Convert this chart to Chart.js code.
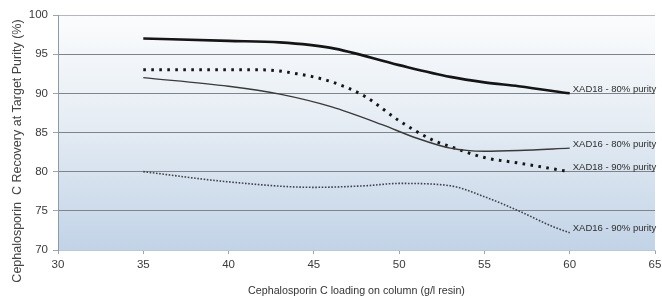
<!DOCTYPE html>
<html>
<head>
<meta charset="utf-8">
<script src="https://cdn.jsdelivr.net/npm/chart.js@4"></script>
<style>
  html, body { margin: 0; padding: 0; background: #fff; }
  #wrap { width: 662px; height: 298px; position: relative; }
</style>
</head>
<body>
<div id="wrap"><canvas id="chart" width="662" height="298"></canvas></div>
<script>
// Loading values (g/l resin) and recovery (%) for each resin / purity target
const xad18_80_x = [35, 40, 43, 46, 50, 53, 55, 57, 60];
const xad18_80_y = [97.0, 96.7, 96.5, 95.8, 93.6, 92.1, 91.4, 90.9, 90.0];

const xad16_80_x = [35, 40, 43, 46, 49, 51, 53, 55, 57, 60];
const xad16_80_y = [92.0, 90.9, 89.9, 88.3, 86.0, 84.3, 83.0, 82.6, 82.7, 83.0];

const xad18_90_x = [35, 40, 42, 44, 46, 48, 50, 52, 53, 55, 57, 60];
const xad18_90_y = [93.0, 93.0, 93.0, 92.5, 91.5, 89.6, 86.5, 84.0, 83.2, 81.8, 81.1, 80.0];

const xad16_90_x = [35, 40, 45, 48, 50, 53, 55, 57, 59, 60];
const xad16_90_y = [80.0, 78.7, 78.0, 78.2, 78.5, 78.2, 76.8, 75.0, 73.0, 72.2];

const seriesNames = ["XAD18 - 80% purity", "XAD16 - 80% purity", "XAD18 - 90% purity", "XAD16 - 90% purity"];

const yTicks = [70, 75, 80, 85, 90, 95, 100];
const xTicks = [30, 35, 40, 45, 50, 55, 60, 65];

const xTitle = "Cephalosporin C loading on column (g/l resin)";
const yTitle = "Cephalosporin  C Recovery at Target Purity (%)";

function toPoints(xs, ys) {
    return xs.map((x, i) => ({ x: x, y: ys[i] }));
}

// Gradient plot background
const bgPlugin = {
    id: "plotBg",
    beforeDraw(chart) {
        const { ctx, chartArea: a } = chart;
        const g = ctx.createLinearGradient(0, a.top, 0, a.bottom);
        g.addColorStop(0, "#fbfcfd");
        g.addColorStop(0.45, "#e6edf4");
        g.addColorStop(1, "#c2d3e7");
        ctx.save();
        ctx.fillStyle = g;
        ctx.fillRect(a.left, a.top, a.right - a.left, a.bottom - a.top);
        ctx.restore();
    }
};

// Series names at the right end of each line, plus the y axis title
const labelPlugin = {
    id: "endLabels",
    afterDatasetsDraw(chart) {
        const ctx = chart.ctx;
        ctx.save();
        ctx.font = "9.5px 'Liberation Sans', Arial, sans-serif";
        ctx.fillStyle = "#2e2e2e";
        ctx.textBaseline = "middle";
        ctx.textAlign = "left";
        chart.data.datasets.forEach((ds, i) => {
            const meta = chart.getDatasetMeta(i);
            const last = meta.data[meta.data.length - 1];
            ctx.fillText(seriesNames[i], last.x + 3, last.y - 4);
        });
        ctx.restore();
    },
    afterDraw(chart) {
        const ctx = chart.ctx;
        ctx.save();
        ctx.translate(18, 151);
        ctx.rotate(-Math.PI / 2);
        ctx.font = "12.5px 'Liberation Sans', Arial, sans-serif";
        ctx.fillStyle = "#444";
        ctx.textAlign = "center";
        ctx.textBaseline = "middle";
        ctx.fillText(yTitle, 0, 0);
        ctx.restore();
    }
};

const ctx = document.getElementById("chart").getContext("2d");
new Chart(ctx, {
    type: "line",
    data: {
        datasets: [
            {
                label: seriesNames[0],
                data: toPoints(xad18_80_x, xad18_80_y),
                borderColor: "#151515",
                borderWidth: 2.6,
            },
            {
                label: seriesNames[1],
                data: toPoints(xad16_80_x, xad16_80_y),
                borderColor: "#3a3a3a",
                borderWidth: 1.4,
            },
            {
                label: seriesNames[2],
                data: toPoints(xad18_90_x, xad18_90_y),
                borderColor: "#151515",
                borderWidth: 3,
                borderDash: [2.6, 5.4],
            },
            {
                label: seriesNames[3],
                data: toPoints(xad16_90_x, xad16_90_y),
                borderColor: "#3e434b",
                borderWidth: 1.6,
                borderDash: [1.6, 1.6],
            },
        ],
    },
    options: {
        responsive: false,
        animation: false,
        devicePixelRatio: 1,
        layout: { padding: { top: 15, right: 0, bottom: 0, left: 0 } },
        elements: {
            point: { radius: 0 },
            line: { cubicInterpolationMode: "monotone", fill: false },
        },
        plugins: {
            legend: { display: false },
            tooltip: { enabled: false },
        },
        scales: {
            x: {
                type: "linear",
                min: 30,
                max: 65,
                afterBuildTicks: (axis) => { axis.ticks = xTicks.map((v) => ({ value: v })); },
                afterFit: (axis) => {
                    axis.height = 48;
                    axis.paddingRight = 7;
                },
                grid: {
                    drawOnChartArea: false,
                    drawTicks: true,
                    tickLength: 4,
                    tickColor: "#9aa5b1",
                },
                border: { display: true, color: "#b9c7d6", width: 1 },
                ticks: {
                    padding: 4,
                    color: "#3a3a3a",
                    autoSkip: false,
                    font: { family: "'Liberation Sans', Arial, sans-serif", size: 11.5 },
                    maxRotation: 0,
                },
                title: {
                    display: true,
                    text: xTitle,
                    color: "#333",
                    font: { family: "'Liberation Sans', Arial, sans-serif", size: 10.7 },
                    padding: { top: 0, bottom: 1 },
                },
            },
            y: {
                min: 70,
                max: 100,
                afterBuildTicks: (axis) => { axis.ticks = yTicks.map((v) => ({ value: v })); },
                afterFit: (axis) => { axis.width = 58; },
                grid: {
                    color: (c) => (c.tick && c.tick.value === 100 ? "#b4b8bd" : c.tick && c.tick.value === 70 ? "rgba(0,0,0,0)" : "#7f848a"),
                    lineWidth: 1,
                    drawTicks: true,
                    tickLength: 5,
                    tickColor: "#9aa5b1",
                },
                border: { display: true, color: "#8d9aa8", width: 1 },
                ticks: {
                    padding: 5,
                    color: "#3a3a3a",
                    autoSkip: false,
                    font: { family: "'Liberation Sans', Arial, sans-serif", size: 11.5 },
                },
            },
        },
    },
    plugins: [bgPlugin, labelPlugin],
});
</script>
</body>
</html>
